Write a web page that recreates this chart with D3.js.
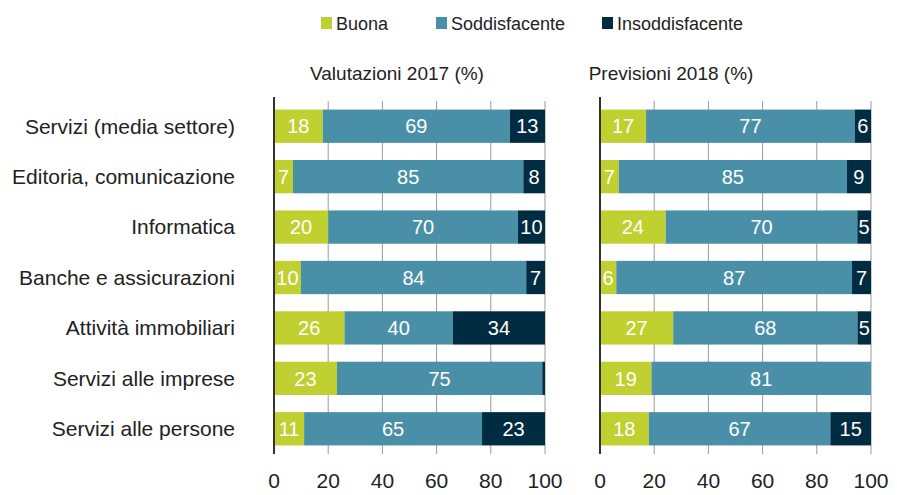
<!DOCTYPE html>
<html>
<head>
<meta charset="utf-8">
<script src="https://cdn.jsdelivr.net/npm/d3@7"></script>
<style>
  body { margin: 0; background: #fff; }
  svg { display: block; font-family: "Liberation Sans", Arial, sans-serif; }
</style>
</head>
<body>
<div class="chart"></div>
<script>
const categories = [
  "Servizi (media settore)",
  "Editoria, comunicazione",
  "Informatica",
  "Banche e assicurazioni",
  "Attività immobiliari",
  "Servizi alle imprese",
  "Servizi alle persone"
];
const seriesNames = ["Buona", "Soddisfacente", "Insoddisfacente"];
const colors = ["#bfd030", "#4a8fa8", "#002c42"];

const buona2017 = [18, 7, 20, 10, 26, 23, 11];
const soddisfacente2017 = [69, 85, 70, 84, 40, 75, 65];
const insoddisfacente2017 = [13, 8, 10, 7, 34, 1, 23];

const buona2018 = [17, 7, 24, 6, 27, 19, 18];
const soddisfacente2018 = [77, 85, 70, 87, 68, 81, 67];
const insoddisfacente2018 = [6, 9, 5, 7, 5, 0, 15];

const tickValues = [0, 20, 40, 60, 80, 100];

const panels = [
  { title: "Valutazioni 2017 (%)", x0: 274, x1: 545, titleX: 397,
    values: [buona2017, soddisfacente2017, insoddisfacente2017] },
  { title: "Previsioni 2018 (%)", x0: 600, x1: 871, titleX: 671,
    values: [buona2018, soddisfacente2018, insoddisfacente2018] }
];

const width = 897, height = 495;

const svg = d3.select(".chart")
  .append("svg")
  .attr("width", width)
  .attr("height", height);

const yScale = d3.scaleBand()
  .domain(categories)
  .range([101, 454])
  .paddingInner(0.34)
  .paddingOuter(0.17);

const color = d3.scaleOrdinal()
  .domain(seriesNames)
  .range(colors);

// legend
const legendX = [321, 436, 602];
const legend = svg.selectAll("g.legend")
  .data(seriesNames)
  .join("g")
  .attr("class", "legend")
  .attr("transform", (d, i) => `translate(${legendX[i]}, 17)`);

legend.append("rect")
  .attr("width", 11)
  .attr("height", 12)
  .attr("fill", d => color(d));

legend.append("text")
  .text(d => d)
  .attr("x", 15)
  .attr("y", 12.5)
  .style("font-size", "18px")
  .attr("fill", "#222");

// category labels
svg.selectAll("text.cat")
  .data(categories)
  .join("text")
  .attr("class", "cat")
  .text(d => d)
  .attr("x", 235)
  .attr("y", d => yScale(d) + yScale.bandwidth() / 2)
  .attr("dy", "0.35em")
  .attr("text-anchor", "end")
  .style("font-size", "21px")
  .attr("fill", "#222");

panels.forEach(p => {
  const rows = categories.map((c, i) => {
    const row = { category: c };
    seriesNames.forEach((s, j) => { row[s] = p.values[j][i]; });
    return row;
  });

  const stacked = d3.stack()
    .keys(seriesNames)
    .offset(d3.stackOffsetExpand)(rows);

  const xScale = d3.scaleLinear()
    .domain([0, 1])
    .range([p.x0, p.x1]);

  const g = svg.append("g");

  g.append("text")
    .text(p.title)
    .attr("x", p.titleX)
    .attr("y", 80)
    .attr("text-anchor", "middle")
    .style("font-size", "19px")
    .attr("fill", "#222");

  // grid lines
  g.selectAll("line.grid")
    .data(tickValues.slice(1))
    .join("line")
    .attr("class", "grid")
    .attr("x1", d => xScale(d / 100))
    .attr("x2", d => xScale(d / 100))
    .attr("y1", 101)
    .attr("y2", 454)
    .attr("stroke", "#9a9a9a")
    .attr("stroke-width", 1);

  const layer = g.selectAll("g.layer")
    .data(stacked)
    .join("g")
    .attr("class", "layer")
    .attr("fill", d => color(d.key));

  layer.selectAll("rect")
    .data(d => d)
    .join("rect")
    .attr("x", d => xScale(d[0]))
    .attr("y", d => yScale(d.data.category))
    .attr("width", d => xScale(d[1]) - xScale(d[0]))
    .attr("height", yScale.bandwidth());

  layer.selectAll("text")
    .data(d => d.map(v => ({ v, value: v.data[d.key] })))
    .join("text")
    .filter(d => d.value >= 3)
    .text(d => d.value)
    .attr("x", d => (xScale(d.v[0]) + xScale(d.v[1])) / 2)
    .attr("y", d => yScale(d.v.data.category) + yScale.bandwidth() / 2)
    .attr("dy", "0.36em")
    .attr("text-anchor", "middle")
    .attr("fill", "#fff")
    .style("font-size", "20px");

  // zero axis line
  g.append("line")
    .attr("x1", xScale(0))
    .attr("x2", xScale(0))
    .attr("y1", 97)
    .attr("y2", 454)
    .attr("stroke", "#333")
    .attr("stroke-width", 2);

  // tick labels
  g.selectAll("text.tick")
    .data(tickValues)
    .join("text")
    .attr("class", "tick")
    .text(d => d)
    .attr("x", d => xScale(d / 100))
    .attr("y", 488)
    .attr("text-anchor", "middle")
    .style("font-size", "21px")
    .attr("fill", "#222");
});
</script>
</body>
</html>
